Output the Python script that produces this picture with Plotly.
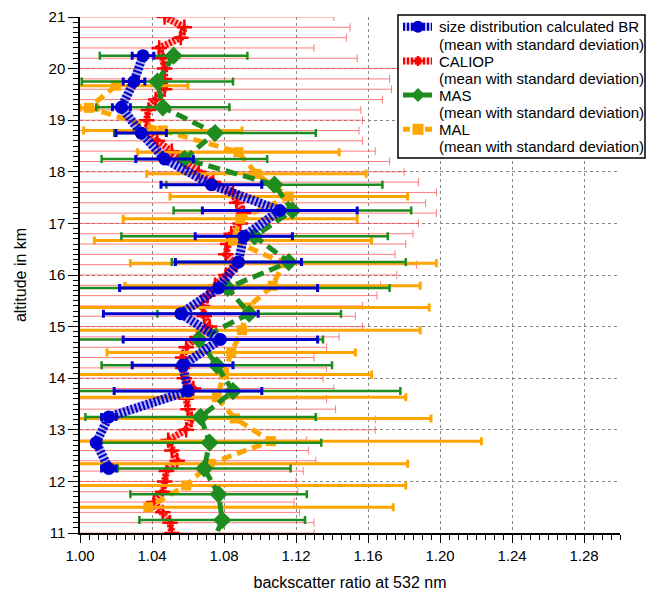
import plotly.graph_objects as go

# ---- size distribution calculated backscatter ratio ----
alt_br = [20.25, 19.75, 19.25, 18.75, 18.25, 17.75, 17.25, 16.75, 16.25,
          15.75, 15.25, 14.75, 14.25, 13.75, 13.25, 12.75, 12.25]
br_mean = [1.035, 1.030, 1.023, 1.034, 1.047, 1.073, 1.111, 1.091, 1.088,
           1.077, 1.056, 1.078, 1.057, 1.060, 1.016, 1.009, 1.016]
br_std = [0.006, 0.006, 0.005, 0.014, 0.016, 0.028, 0.043, 0.027, 0.035,
          0.055, 0.043, 0.054, 0.028, 0.041, 0.004, 0.001, 0.004]

# ---- CALIOP ----
alt_cal = [21.0, 20.8, 20.6, 20.4, 20.2, 20.0, 19.8, 19.6, 19.4, 19.2, 19.0,
           18.8, 18.6, 18.4, 18.2, 18.0, 17.8, 17.6, 17.4, 17.2, 17.0,
           16.8, 16.6, 16.4, 16.2, 16.0, 15.8, 15.6, 15.4, 15.2, 15.0,
           14.8, 14.6, 14.4, 14.2, 14.0, 13.8, 13.6, 13.4, 13.2, 13.0,
           12.8, 12.6, 12.4, 12.2, 12.0, 11.8, 11.6, 11.4, 11.2, 11.0]
cal_mean = [1.047, 1.058, 1.056, 1.044, 1.046, 1.047, 1.047, 1.047, 1.042, 1.038, 1.037,
            1.038, 1.043, 1.051, 1.059, 1.066, 1.074, 1.085, 1.087, 1.091, 1.089,
            1.084, 1.082, 1.081, 1.087, 1.081, 1.075, 1.071, 1.068, 1.069, 1.072,
            1.065, 1.059, 1.057, 1.057, 1.058, 1.063, 1.059, 1.060, 1.062, 1.059,
            1.049, 1.051, 1.054, 1.048, 1.047, 1.046, 1.041, 1.046, 1.050, 1.051]
cal_std = [0.094, 0.092, 0.092, 0.086, 0.108, 0.150, 0.125, 0.126, 0.126, 0.118, 0.120,
           0.117, 0.114, 0.113, 0.113, 0.114, 0.114, 0.113, 0.105, 0.107, 0.099,
           0.101, 0.099, 0.094, 0.100, 0.095, 0.092, 0.094, 0.089, 0.084, 0.085,
           0.079, 0.078, 0.073, 0.080, 0.077, 0.078, 0.078, 0.082, 0.102, 0.105,
           0.077, 0.076, 0.077, 0.076, 0.073, 0.075, 0.078, 0.076, 0.080, 0.079]

# ---- MAS ----
alt_mas = [20.25, 19.75, 19.25, 18.75, 18.25, 17.75, 17.25, 16.75, 16.25, 15.75,
           15.25, 14.75, 14.25, 13.75, 13.25, 12.75, 12.25, 11.75, 11.25, 10.75]
mas_mean = [1.052, 1.043, 1.046, 1.075, 1.058, 1.108, 1.118, 1.097, 1.116, 1.082,
            1.094, 1.066, 1.076, 1.085, 1.067, 1.072, 1.069, 1.077, 1.079, 1.073]
mas_std = [0.041, 0.042, 0.037, 0.056, 0.046, 0.060, 0.066, 0.074, 0.065, 0.090,
           0.051, 0.069, 0.064, 0.093, 0.064, 0.062, 0.048, 0.049, 0.046, 0.046]

# ---- MAL ----
alt_mal = [19.67, 19.24, 18.80, 18.38, 17.96, 17.52, 17.09, 16.67, 16.23, 15.79,
           15.37, 14.93, 14.50, 14.07, 13.63, 13.22, 12.78, 12.34, 11.92, 11.50]
mal_mean = [1.020, 1.005, 1.046, 1.088, 1.098, 1.116, 1.089, 1.085, 1.113, 1.107,
            1.093, 1.090, 1.084, 1.080, 1.076, 1.086, 1.106, 1.072, 1.059, 1.038]
mal_std = [0.040, 0.005, 0.044, 0.056, 0.061, 0.066, 0.065, 0.077, 0.085, 0.082,
           0.101, 0.099, 0.069, 0.082, 0.105, 0.109, 0.117, 0.110, 0.122, 0.136]

legend_labels = ["size distribution calculated BR", "CALIOP", "MAS", "MAL"]
legend_sub = "(mean with standard deviation)"

BLUE = "#0000cc"
RED = "#ff0000"
GREEN = "#1e8c1e"
ORANGE = "#ffa500"
FONT = "Liberation Sans, Arial, sans-serif"

W, H = 649, 596
ML, MR, MT, MB = 80, 29, 17, 63
PW, PH = W - ML - MR, H - MT - MB


def xp(px):
    return (px - ML) / PW


def yp(py):
    return (H - MB - py) / PH


fig = go.Figure()

# CALIOP: hatched thick line (light base + fine dash stripes), + markers, thin error bars
fig.add_trace(go.Scatter(
    x=cal_mean, y=alt_cal, mode="lines", showlegend=False, hoverinfo="skip",
    line=dict(color="rgba(255,0,0,0.30)", width=7)))
fig.add_trace(go.Scatter(
    x=cal_mean, y=alt_cal, mode="lines+markers", name=legend_labels[1],
    line=dict(color=RED, width=7, dash="2px,2px"),
    marker=dict(symbol="cross-thin", size=11, line=dict(color=RED, width=2.5)),
    error_x=dict(type="data", array=cal_std, color="rgba(255,70,70,0.7)",
                 thickness=1, width=4)))

# MAL: dashed orange with squares
fig.add_trace(go.Scatter(
    x=mal_mean, y=alt_mal, mode="lines+markers", name=legend_labels[3],
    line=dict(color=ORANGE, width=5, dash="10px,6px"),
    marker=dict(symbol="square", size=10, color=ORANGE),
    error_x=dict(type="data", array=mal_std, color=ORANGE, thickness=3, width=4)))

# MAS: dashed green with diamonds
fig.add_trace(go.Scatter(
    x=mas_mean, y=alt_mas, mode="lines+markers", name=legend_labels[2],
    line=dict(color=GREEN, width=5, dash="12px,6px"),
    marker=dict(symbol="diamond", size=14, color=GREEN),
    error_x=dict(type="data", array=mas_std, color=GREEN, thickness=2.5, width=4)))

# size distribution BR: hatched thick blue line with circles
fig.add_trace(go.Scatter(
    x=br_mean, y=alt_br, mode="lines", showlegend=False, hoverinfo="skip",
    line=dict(color="rgba(0,0,204,0.30)", width=9)))
fig.add_trace(go.Scatter(
    x=br_mean, y=alt_br, mode="lines+markers", name=legend_labels[0],
    line=dict(color=BLUE, width=9, dash="2px,2px"),
    marker=dict(symbol="circle", size=13, color=BLUE),
    error_x=dict(type="data", array=br_std, color=BLUE, thickness=3, width=4)))

# ---- legend box drawn on top of the plot ----
shapes = [dict(type="rect", xref="paper", yref="paper", layer="above",
               x0=xp(398), x1=xp(645), y0=yp(158), y1=yp(15),
               fillcolor="white", line=dict(color="black", width=1.5))]
annotations = []
row_y = [26.7, 61.0, 95.0, 129.3]
sx0, sx1, sxc = 403, 432, 418


def hline(py, color, width, dash="solid"):
    return dict(type="line", xref="paper", yref="paper", layer="above",
                x0=xp(sx0), x1=xp(sx1), y0=yp(py), y1=yp(py),
                line=dict(color=color, width=width, dash=dash))


# size distribution BR sample
y0 = row_y[0]
shapes.append(hline(y0, "rgba(0,0,204,0.30)", 8))
shapes.append(hline(y0, BLUE, 8, "2px,2px"))
shapes.append(dict(type="circle", xref="paper", yref="paper", layer="above",
                   x0=xp(sxc - 6), x1=xp(sxc + 6), y0=yp(y0 + 6), y1=yp(y0 - 6),
                   fillcolor=BLUE, line=dict(color=BLUE, width=0)))
# CALIOP sample
y1 = row_y[1]
shapes.append(hline(y1, "rgba(255,0,0,0.30)", 7))
shapes.append(hline(y1, RED, 7, "2px,2px"))
shapes.append(dict(type="line", xref="paper", yref="paper", layer="above",
                   x0=xp(sxc), x1=xp(sxc), y0=yp(y1 - 5), y1=yp(y1 + 5),
                   line=dict(color=RED, width=2.5)))
shapes.append(dict(type="line", xref="paper", yref="paper", layer="above",
                   x0=xp(sxc - 5), x1=xp(sxc + 5), y0=yp(y1), y1=yp(y1),
                   line=dict(color=RED, width=2.5)))
# MAS sample
y2 = row_y[2]
shapes.append(hline(y2, GREEN, 5))
shapes.append(dict(type="path", xref="paper", yref="paper", layer="above",
                   path=(f"M {xp(sxc - 7)},{yp(y2)} L {xp(sxc)},{yp(y2 - 7)} "
                         f"L {xp(sxc + 7)},{yp(y2)} L {xp(sxc)},{yp(y2 + 7)} Z"),
                   fillcolor=GREEN, line=dict(color=GREEN, width=0)))
# MAL sample
y3 = row_y[3]
shapes.append(dict(type="line", xref="paper", yref="paper", layer="above",
                   x0=xp(sx0), x1=xp(sx1), y0=yp(y3), y1=yp(y3),
                   line=dict(color=ORANGE, width=5, dash="7px,4px")))
shapes.append(dict(type="rect", xref="paper", yref="paper", layer="above",
                   x0=xp(sxc - 5.5), x1=xp(sxc + 5.5), y0=yp(y3 + 5.5), y1=yp(y3 - 5.5),
                   fillcolor=ORANGE, line=dict(color=ORANGE, width=0)))

for label, py in zip(legend_labels, row_y):
    for text, yy in ((label, py), (legend_sub, py + 17.4)):
        annotations.append(dict(xref="paper", yref="paper", x=xp(437), y=yp(yy),
                                xanchor="left", yanchor="middle", showarrow=False,
                                text=text, font=dict(family=FONT, size=15, color="black")))

fig.update_layout(
    width=W, height=H,
    margin=dict(l=ML, r=MR, t=MT, b=MB, autoexpand=False),
    plot_bgcolor="white", paper_bgcolor="white",
    font=dict(family=FONT, size=15, color="black"),
    showlegend=False,
    shapes=shapes,
    annotations=annotations,
    xaxis=dict(
        range=[1.0, 1.3], tick0=1.0, dtick=0.04, tickformat=".2f",
        ticks="outside", ticklen=8, tickcolor="black", tickwidth=1,
        showline=True, linecolor="black", linewidth=1.5, mirror=False,
        showgrid=True, gridcolor="#888888", griddash="dot", gridwidth=1,
        zeroline=False, automargin=False,
        minor=dict(dtick=0.005, ticks="outside", ticklen=5, tickcolor="black",
                   showgrid=False),
        title=dict(text="backscatter ratio at 532 nm", font=dict(size=16), standoff=14),
        tickfont=dict(size=15)),
    yaxis=dict(
        range=[11, 21], tick0=11, dtick=1,
        ticks="outside", ticklen=10, tickcolor="black", tickwidth=1,
        showline=True, linecolor="black", linewidth=1.5, mirror=False,
        showgrid=True, gridcolor="#888888", griddash="dot", gridwidth=1,
        zeroline=False, automargin=False,
        minor=dict(dtick=0.1, ticks="outside", ticklen=5, tickcolor="black",
                   showgrid=False),
        title=dict(text="altitude in km", font=dict(size=16), standoff=18),
        tickfont=dict(size=15)),
)

fig.write_html("out.html")
